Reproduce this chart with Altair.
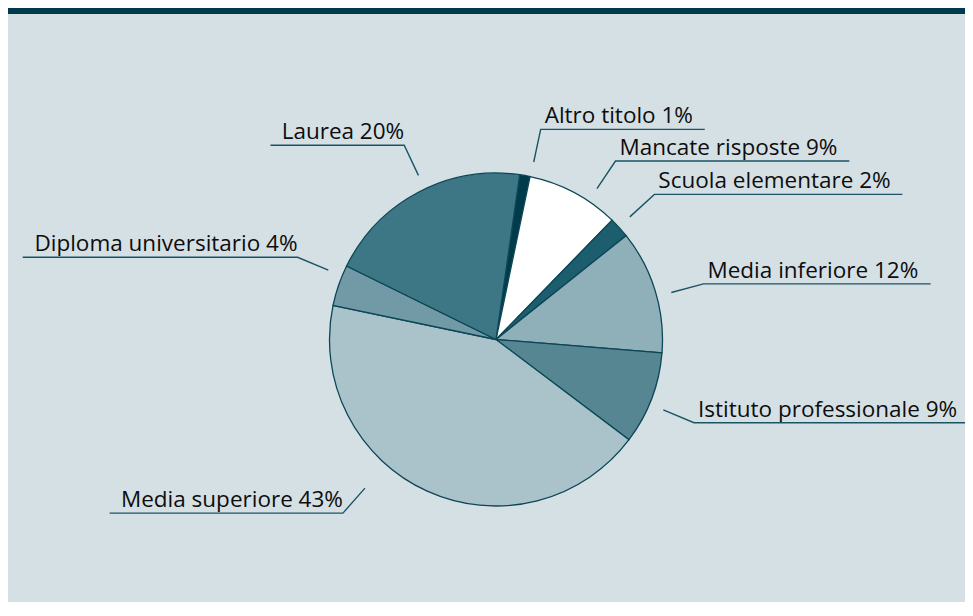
import math
import altair as alt
import pandas as pd

# ---------------- data ----------------
labels = ["Altro titolo", "Mancate risposte", "Scuola elementare", "Media inferiore",
          "Istituto professionale", "Media superiore", "Diploma universitario", "Laurea"]
shares = [1, 9, 2, 12, 9, 43, 4, 20]
colors = ["#003b4b", "#ffffff", "#1d5e6e", "#8fb0b9", "#578693", "#aac2c9", "#729aa6", "#3d7684"]

# ---------------- layout / style ----------------
W, H = 957, 594
CX, CY, R = 488, 331.5, 166.5
START_DEG = 8.2            # rotation of the first slice from 12 o'clock
BG = "#d5e0e5"
DARK = "#003b4b"
EDGE = "#0b4656"
LEADER = "#1a5464"
FONT = "Open Sans"
FS = 22.5
R_IN, R_ELBOW = 1.09, 1.29
LEAD_ROT = 2.0
# per-label nudges of the leader (degrees, extra radius factor)
nudge = {"Mancate risposte": (3.8, 0), "Scuola elementare": (-2.3, 0),
         "Media superiore": (15, 0.1), "Diploma universitario": (1.5, 0),
         "Laurea": (0.5, 0)}

# approximate Open Sans advance widths (em)
cw = {" ": 0.26, "%": 0.82, "A": 0.633, "D": 0.737, "I": 0.28, "L": 0.536, "M": 0.907,
      "S": 0.532, "a": 0.556, "c": 0.478, "d": 0.614, "e": 0.561, "f": 0.339, "i": 0.258,
      "l": 0.258, "m": 0.93, "n": 0.614, "o": 0.6, "p": 0.614, "r": 0.408, "s": 0.476,
      "t": 0.352, "u": 0.614, "v": 0.5}


def text_w(s):
    return FS * sum(cw.get(ch, 0.572) for ch in s)


texts = [f"{l} {v}%" for l, v in zip(labels, shares)]
total = sum(shares)
off = math.radians(START_DEG)

pie_df = pd.DataFrame({"label": labels, "value": shares, "order": range(len(labels))})

lead_rows, txt_rows = [], []
cum = 0
for lab, v, t in zip(labels, shares, texts):
    mid = START_DEG + 360 * (cum + v / 2) / total
    cum += v
    dang, dr = nudge.get(lab, (0, 0))
    ang = mid + LEAD_ROT + dang
    a = math.radians(ang)
    ri, re = R * (R_IN + dr), R * (R_ELBOW + dr)
    x0, y0 = CX + ri * math.sin(a), CY - ri * math.cos(a)
    x1, y1 = CX + re * math.sin(a), CY - re * math.cos(a)
    tw = text_w(t)
    right = ang % 360 < 180
    if right:
        x2 = x1 + tw + 16
        tx, al = x1 + 4, "left"
    else:
        x2 = x1 - tw - 11
        tx, al = x1, "right"
    for k, (px, py) in enumerate([(x0, y0), (x1, y1), (x2, y1)]):
        lead_rows.append({"label": lab, "k": k, "x": px, "y": py})
    txt_rows.append({"text": t, "x": tx, "y": y1 - 6, "align": al})

lead_df = pd.DataFrame(lead_rows)
txt_df = pd.DataFrame(txt_rows)

bar = alt.Chart(pd.DataFrame({"a": [0]})).mark_rect(color=DARK).encode(
    x=alt.value(0), x2=alt.value(W), y=alt.value(0), y2=alt.value(6))

pie = alt.Chart(pie_df).mark_arc(outerRadius=R, stroke=EDGE, strokeWidth=1.3).encode(
    theta=alt.Theta("value:Q", stack=True,
                    scale=alt.Scale(range=[off, off + 2 * math.pi])),
    order=alt.Order("order:Q"),
    color=alt.Color("label:N", scale=alt.Scale(domain=labels, range=colors), legend=None),
    x=alt.value(CX), y=alt.value(CY),
)

leaders = alt.Chart(lead_df).mark_line(color=LEADER, strokeWidth=1.4).encode(
    x=alt.X("x:Q", scale=None, axis=None),
    y=alt.Y("y:Q", scale=None, axis=None),
    detail="label:N",
    order="k:Q",
)

left_txt = alt.Chart(txt_df[txt_df["align"] == "left"]).mark_text(
    font=FONT, fontSize=FS, color="#0d0d0d", align="left", baseline="alphabetic").encode(
    x=alt.X("x:Q", scale=None, axis=None),
    y=alt.Y("y:Q", scale=None, axis=None),
    text="text:N",
)
right_txt = alt.Chart(txt_df[txt_df["align"] == "right"]).mark_text(
    font=FONT, fontSize=FS, color="#0d0d0d", align="right", baseline="alphabetic").encode(
    x=alt.X("x:Q", scale=None, axis=None),
    y=alt.Y("y:Q", scale=None, axis=None),
    text="text:N",
)

chart = alt.layer(bar, pie, leaders, left_txt, right_txt).properties(
    width=W, height=H, padding=0, background=BG,
    autosize=alt.AutoSizeParams(type="none"),
).configure_view(stroke=None)

chart.save("out.html", embed_options={"renderer": "svg", "actions": False})
